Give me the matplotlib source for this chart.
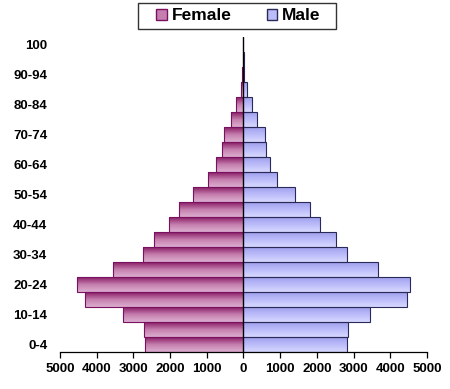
import numpy as np
import matplotlib.pyplot as plt
from matplotlib.colors import LinearSegmentedColormap
from matplotlib.patches import Patch, Rectangle

plt.rcParams['font.family'] = ['Liberation Sans', 'DejaVu Sans']

ages = ['0-4', '5-9', '10-14', '15-19', '20-24', '25-29', '30-34', '35-39',
        '40-44', '45-49', '50-54', '55-59', '60-64', '65-69', '70-74',
        '75-79', '80-84', '85-89', '90-94', '95-99', '100']
female = [2680, 2710, 3275, 4310, 4530, 3565, 2730, 2440, 2020, 1750, 1385,
          960, 740, 578, 523, 332, 212, 76, 30, 8, 0]
male = [2830, 2840, 3455, 4465, 4540, 3665, 2830, 2520, 2085, 1800, 1395,
        905, 730, 613, 594, 360, 223, 87, 22, 5, 0]
xticks = [-5000, -4000, -3000, -2000, -1000, 0, 1000, 2000, 3000, 4000, 5000]

fem_cmap = LinearSegmentedColormap.from_list('fem', ['#dcaed0', '#c57fae', '#8a1d66'])
male_cmap = LinearSegmentedColormap.from_list('male', ['#d8d8ff', '#bcbcfa', '#a0a0ee'])

fig = plt.figure(figsize=(4.5, 3.89), dpi=100)
ax = fig.add_axes([0.133, 0.0964, 0.816, 0.8096])

y = np.arange(len(ages))
fbars = ax.barh(y, [-v for v in female], height=1.0, color='none',
                edgecolor='#7a1060', linewidth=0.8, zorder=3)
mbars = ax.barh(y, male, height=1.0, color='none',
                edgecolor='#2a2a5a', linewidth=0.8, zorder=3)

# vertical gradient inside each bar
grad = np.linspace(0, 1, 64).reshape(-1, 1)
for bars, cmap in ((fbars, fem_cmap), (mbars, male_cmap)):
    for b in bars:
        w = b.get_width()
        if w == 0:
            continue
        x0, x1 = sorted([b.get_x(), b.get_x() + w])
        y0, y1 = b.get_y(), b.get_y() + b.get_height()
        im = ax.imshow(grad, cmap=cmap, aspect='auto', origin='lower',
                       extent=[x0, x1, y0, y1], zorder=2)
        im.set_clip_path(b)

ax.axvline(0, color='black', linewidth=0.9, zorder=4)
ax.set_xlim(-5000, 5000)
ax.set_ylim(-0.5, len(ages) - 0.5)
ax.set_xticks(xticks)
ax.set_xticklabels([str(abs(v)) for v in xticks], fontsize=9.5, fontweight='bold')
ax.set_yticks(y[::2])
ax.set_yticklabels(ages[::2], fontsize=9.5, fontweight='bold')
ax.tick_params(axis='y', length=0, pad=9)
ax.tick_params(axis='x', direction='out', length=4, width=0.9, pad=4)

for s in ['top', 'right', 'left']:
    ax.spines[s].set_visible(False)
ax.spines['bottom'].set_linewidth(0.9)

# legend box
fig.patches.append(Rectangle((138 / 450, 1 - 29 / 389), 198 / 450, 26 / 389,
                             transform=fig.transFigure, facecolor='white',
                             edgecolor='#333333', linewidth=1.0, zorder=5))
handles = [Patch(facecolor='#c57fae', edgecolor='#7a1060', label='Female'),
           Patch(facecolor='#bcbcfa', edgecolor='#2a2a5a', label='Male')]
leg = fig.legend(handles=handles, loc='center', bbox_to_anchor=(238.5 / 450, 1 - 16 / 389),
                 ncol=2, frameon=False, prop={'weight': 'bold', 'size': 12.5},
                 handlelength=0.6, handleheight=0.6, columnspacing=2.0,
                 handletextpad=0.3, borderpad=0.0)
leg.set_zorder(6)

fig.savefig('out.png', dpi=100)
